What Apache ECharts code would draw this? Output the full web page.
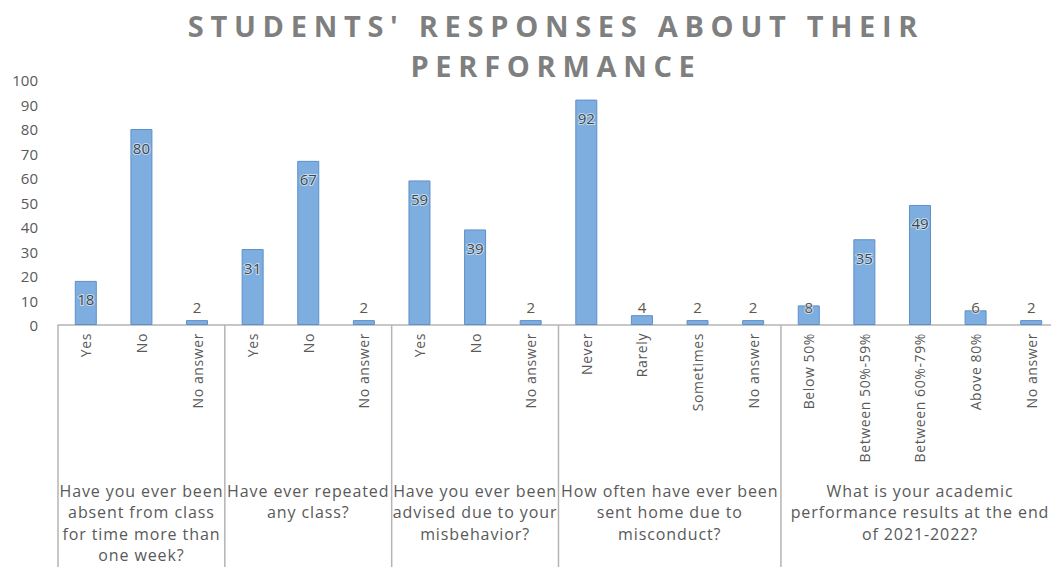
<!DOCTYPE html>
<html>
<head>
<meta charset="utf-8">
<script src="https://cdn.jsdelivr.net/npm/echarts@6/dist/echarts.min.js"></script>
<style>
  html, body { margin: 0; padding: 0; background: #ffffff; }
  #chart { width: 1051px; height: 567px; }
  /* spaced-out lettering for the heading and the question captions */
  #chart text[style*="bold"] { letter-spacing: 6.7px; }
  #chart text[style*="16px"] { letter-spacing: 0.9px; }
  #chart text[style*="14px"] { letter-spacing: 0.6px; }
</style>
</head>
<body>
<div id="chart"></div>
<script>
// Answer options, in question order
const categories = [
  'Yes', 'No', 'No answer',
  'Yes', 'No', 'No answer',
  'Yes', 'No', 'No answer',
  'Never', 'Rarely', 'Sometimes', 'No answer',
  'Below 50%', 'Between 50%-59%', 'Between 60%-79%', 'Above 80%', 'No answer'
];
// Number of students giving each answer
const values = [18, 80, 2, 31, 67, 2, 59, 39, 2, 92, 4, 2, 2, 8, 35, 49, 6, 2];
// Questions and how many answer options each one has
const questions = [
  'Have you ever been\nabsent from class\nfor time more than\none week?',
  'Have ever repeated\nany class?',
  'Have you ever been\nadvised due to your\nmisbehavior?',
  'How often have ever been\nsent home due to\nmisconduct?',
  'What is your academic\nperformance results at the end\nof 2021-2022?'
];
const questionSizes = [3, 3, 3, 4, 5];
const yTicks = { min: 0, max: 100, interval: 10 };

const TEXT = '#595959';
const LINE = '#b4b4b4';
const FONT = '"Open Sans", "DejaVu Sans", sans-serif';

const chart = echarts.init(document.getElementById('chart'), null, { renderer: 'svg' });

// Tall bars carry their value just inside the top; short ones show it above the bar
const barData = values.map(v => ({
  value: v,
  label: v >= 10
    ? { position: 'insideTop', distance: 11, color: '#3b4757' }
    : { position: 'insideBottom', distance: 11, color: TEXT }
}));

chart.setOption({
  animation: false,
  backgroundColor: '#ffffff',
  title: {
    text: "STUDENTS' RESPONSES ABOUT THEIR\nPERFORMANCE",
    left: 551,
    textAlign: 'center',
    top: 0,
    textStyle: {
      fontFamily: FONT,
      fontWeight: 'bold',
      fontSize: 29,
      lineHeight: 40,
      color: '#7f7f7f'
    }
  },
  grid: { left: 58, top: 80, width: 1001, height: 245, outerBoundsMode: 'none', containLabel: false },
  xAxis: {
    type: 'category',
    data: categories,
    axisLine: { show: true, lineStyle: { color: LINE, width: 1.5 } },
    axisTick: { show: false },
    axisLabel: {
      interval: 0,
      rotate: 90,
      margin: 8,
      fontFamily: FONT,
      fontSize: 14,
      color: TEXT
    }
  },
  yAxis: {
    type: 'value',
    min: yTicks.min,
    max: yTicks.max,
    interval: yTicks.interval,
    axisLine: { show: false },
    axisTick: { show: false },
    splitLine: { show: false },
    axisLabel: { margin: 20, fontFamily: FONT, fontSize: 15, color: TEXT }
  },
  series: [{
    type: 'bar',
    data: barData,
    barWidth: 22,
    itemStyle: { color: '#7eaee0', borderColor: '#5d8fc8', borderWidth: 1 },
    label: {
      show: true,
      fontFamily: FONT,
      fontSize: 15,
      textBorderColor: 'rgba(255,250,235,0.6)',
      textBorderWidth: 2
    }
  }]
});

// Question captions and the dividers between question groups, placed on the category scale
function drawGroups() {
  const c0 = chart.convertToPixel({ xAxisIndex: 0 }, 0);
  const c1 = chart.convertToPixel({ xAxisIndex: 0 }, 1);
  const step = c1 - c0;
  const base = chart.convertToPixel({ yAxisIndex: 0 }, 0);
  const bottom = chart.getHeight();
  const edgeX = i => c0 - step / 2 + i * step;
  const elements = [{
    type: 'line', silent: true,
    shape: { x1: edgeX(0), y1: base, x2: edgeX(0), y2: bottom },
    style: { stroke: LINE, lineWidth: 1.5 }
  }];
  let start = 0;
  questions.forEach((q, gi) => {
    const end = start + questionSizes[gi];
    const xl = edgeX(start), xr = edgeX(end);
    elements.push({
      type: 'line', silent: true,
      shape: { x1: xr, y1: base, x2: xr, y2: bottom },
      style: { stroke: LINE, lineWidth: 1.5 }
    });
    elements.push({
      type: 'text', silent: true,
      x: (xl + xr) / 2,
      y: base + 155,
      style: {
        text: q,
        align: 'center',
        verticalAlign: 'top',
        fontFamily: FONT,
        fontSize: 16,
        lineHeight: 21.5,
        fill: TEXT
      }
    });
    start = end;
  });
  chart.setOption({ graphic: { elements: elements } });
}
drawGroups();
</script>
</body>
</html>
